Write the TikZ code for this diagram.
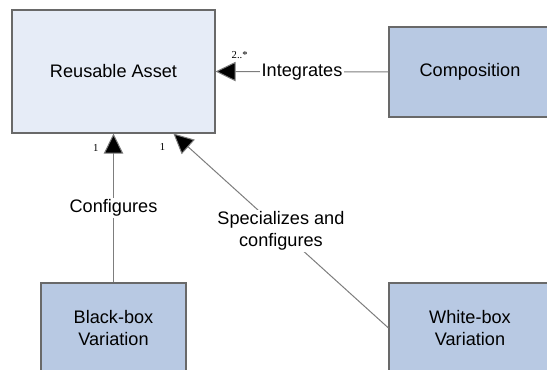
\documentclass[tikz,border=0pt]{standalone}
\usepackage{fontspec}
\setmainfont{Liberation Sans}
\newfontfamily\multfont{Liberation Serif}
\usetikzlibrary{arrows.meta, calc}
\definecolor{AssetFill}{RGB}{230, 236, 247}
\definecolor{PartFill}{RGB}{184, 201, 227}
\definecolor{BoxLine}{RGB}{105, 105, 105}
\definecolor{LinkLine}{RGB}{125, 125, 125}

\begin{document}
\begin{tikzpicture}[x=0.75pt, y=-0.75pt,
    box/.style={draw=BoxLine, line width=0.8pt, align=center, font=\fontsize{13.6}{17}\selectfont},
    link/.style={draw=LinkLine, line width=0.75pt, -{Triangle[length=15pt, width=14.5pt, fill=black]}},
    linklabel/.style={fill=white, inner sep=1pt, align=center, font=\fontsize{13.6}{16.5}\selectfont},
    mult/.style={font=\multfont\fontsize{8}{9}\selectfont, inner sep=1pt}]
    \useasboundingbox (0, 0) rectangle (547, 370);

    % Asset in the middle of everything
    \node[box, fill=AssetFill, minimum width=152.25pt, minimum height=92.25pt] (asset) at (113.5, 71.5) {Reusable Asset};

    % The three ways of using it
    \node[box, fill=PartFill, minimum width=121.5pt, minimum height=67.5pt] (comp) at (470, 72) {Composition};
    \node[box, fill=PartFill, minimum width=108.75pt, minimum height=67.5pt] (black) at (113.5, 328) {Black-box\\Variation};
    \node[box, fill=PartFill, minimum width=121.5pt, minimum height=67.5pt] (white) at (470, 328) {White-box\\Variation};

    % Connectors
    \draw[link] (comp.west) -- node[linklabel] {Integrates} node[mult, pos=0.86, above=8pt] {2..*} (asset.east);
    \draw[link] (black.north) -- node[linklabel] {Configures} node[mult, pos=0.9, left=10pt] {1} (asset.south);
    \draw[link] (white.west) -- node[linklabel] {Specializes and\\configures} node[mult, pos=0.93, left=16pt] {1} (asset.-46);
\end{tikzpicture}
\end{document}
